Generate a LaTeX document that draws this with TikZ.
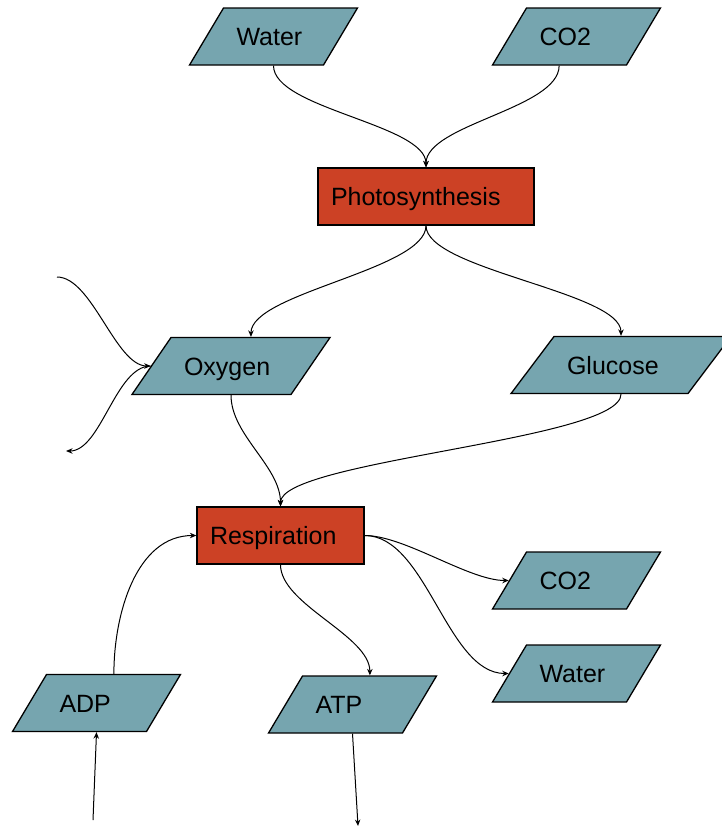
\documentclass[tikz,border=0pt]{standalone}
\usepackage{fontspec}
\setmainfont{Liberation Sans}
\usetikzlibrary{shapes.geometric,arrows.meta,calc}

\definecolor{substance}{HTML}{76A5AF}
\definecolor{process}{HTML}{CC4125}

\tikzset{
  % slanted box: body width = text width + 26pt, height 57pt
  item/.style 2 args={trapezium,
    trapezium left angle=#1, trapezium right angle=#2,
    draw=black, line width=1.3pt, fill=substance,
    inner xsep=13pt, inner ysep=19.5pt,
    text height=18pt, text depth=0pt, align=left},
  stage/.style={rectangle, draw=black, line width=1.3pt, fill=process,
    minimum height=57pt, inner xsep=13pt, inner ysep=0pt,
    text height=18pt, text depth=0pt, align=left},
  flow/.style={draw=black, line width=1pt, -{Stealth[length=6.5pt,width=5.5pt]}}
}

\begin{document}
\begin{tikzpicture}[x=1pt, y=1pt, font=\fontsize{25}{30}\selectfont]
\useasboundingbox (0,0) rectangle (721,-827);

% inputs of photosynthesis
\node[item={59.2}{120.8}, text width=74pt] (waterin) at (273.5,-36.5) {Water};
\node[item={59.2}{120.8}, text width=74pt] (co2in) at (576.5,-36.5) {CO2};

% processes
\node[stage, text width=190pt] (photo) at (426,-196.5) {Photosynthesis};
\node[stage, text width=141pt] (resp) at (280.5,-535.5) {Respiration};

% products of photosynthesis
\node[item={55.6}{124.4}, text width=94pt] (oxy) at (231,-366) {Oxygen};
\node[item={53}{127}, text width=108pt] (gluc) at (621,-365) {Glucose};

% products and inputs of respiration
\node[item={59.2}{120.8}, text width=74pt] (co2out) at (576.5,-580.5) {CO2};
\node[item={59.2}{120.8}, text width=74pt] (waterout) at (576.5,-673.5) {Water};
\node[item={59.2}{120.8}, text width=74pt] (adp) at (96.5,-703) {ADP};
\node[item={59.2}{120.8}, text width=74pt] (atp) at (352.5,-704.5) {ATP};

% loose ends
\coordinate (o2src) at (57,-277);
\coordinate (o2sink) at (66,-451);
\coordinate (adpsrc) at (93,-820);
\coordinate (atpsink) at (358,-826);

% connectors
\draw[flow] (waterin.south) .. controls +(0,-43) and +(0,43) .. (photo.north);
\draw[flow] ($(co2in.bottom left corner)!.5!(co2in.bottom right corner)$) .. controls +(0,-43) and +(0,43) .. (photo.north);
\draw[flow] (photo.south) .. controls +(0,-44) and +(0,44) .. ($(oxy.top left corner)!.5!(oxy.top right corner)$);
\draw[flow] (photo.south) .. controls +(0,-44) and +(0,44) .. (gluc.north);
\draw[flow] (oxy.south) .. controls +(0,-40) and +(0,40) .. (resp.north);
\draw[flow] (gluc.south) .. controls +(0,-46) and +(0,46) .. (resp.north);
\draw[flow] (o2src) .. controls +(35,0) and +(-35,0) .. (oxy.west);
\draw[flow] (oxy.west) .. controls +(-35,0) and +(35,0) .. (o2sink);
\draw[flow] (resp.east) .. controls +(40,0) and +(-40,0) .. (co2out.west);
\draw[flow] (resp.east) .. controls +(62,0) and +(-62,0) .. (waterout.west);
\draw[flow] (resp.south) .. controls +(0,-40) and +(0,40) .. ($(atp.top left corner)!.5!(atp.top right corner)$);
\draw[flow] ($(adp.top left corner)!.5!(adp.top right corner)$) .. controls +(0,60) and +(-60,0) .. (resp.west);
\draw[flow] (adpsrc) -- (adp.south);
\draw[flow] (atp.south) -- (atpsink);
\end{tikzpicture}
\end{document}
